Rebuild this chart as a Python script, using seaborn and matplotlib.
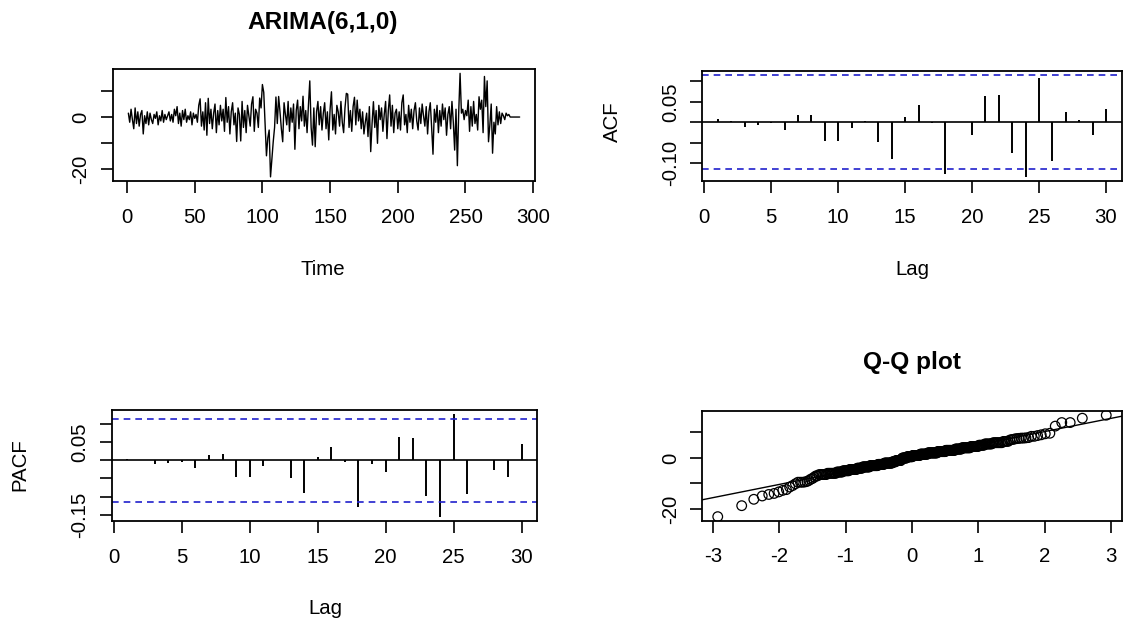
import numpy as np
import pandas as pd
import seaborn as sns
import matplotlib
matplotlib.use("Agg")
import matplotlib.pyplot as plt
from statistics import NormalDist

# ---------------- data ----------------
resid = [
    1.5, -2.0, 3.0, -1.0, -4.5, 3.5, -2.5, 2.0, -3.5, 1.0,
    2.5, -6.5, 0.5, -2.5, 2.0, -3.0, 1.5, -1.0, -2.5, 1.0,
    -0.5, 2.0, -3.0, 0.5, -1.5, 2.5, -2.0, 1.0, -1.0, 0.5,
    2.0, -1.5, 1.0, -2.0, 3.0, 0.5, 4.0, -2.5, 1.5, -3.5,
    2.5, -1.0, 3.0, -2.0, 0.5, -1.0, 2.0, -3.0, 1.5, -0.5,
    1.0, -2.0, 4.5, 7.0, -3.5, 2.0, -5.0, 5.5, -7.0, 7.2,
    -2.5, 3.0, -4.5, 1.5, 5.0, -6.0, 2.5, -3.0, 4.5, -1.5,
    3.0, -5.5, 7.5, -2.0, 4.0, -6.5, 2.0, 5.5, -3.0, 1.5,
    -9.4, 3.5, 1.0, -9.2, 6.0, -4.0, 2.5, -6.0, 4.5, 0.5,
    -3.5, 5.0, 7.8, -5.5, 3.0, 1.5, -4.0, 7.3, 3.5, 12.5,
    9.5, -3.0, -14.9, -8.0, -5.0, -23.0, -16.2, -9.5, -4.0, 7.7,
    -2.5, 7.9, 2.0, -4.5, -9.5, 5.5, 1.0, -3.0, 6.0, -5.5,
    3.5, -2.0, 5.0, -12.4, 2.5, 6.5, -4.5, 4.0, -1.5, 8.0,
    -3.5, 2.5, -6.0, 4.5, 13.9, -4.0, -10.8, 3.5, -11.4, 2.0,
    6.0, -3.0, 4.0, -5.0, 1.5, 5.5, -4.5, 2.0, -8.8, 3.0,
    9.7, -5.0, 1.0, -6.5, 4.5, 2.0, -3.5, 6.0, -2.0, -6.0,
    3.5, 9.1, 8.8, -4.0, 2.5, -5.5, 4.0, 7.6, -3.0, 6.5,
    -1.5, 3.0, -4.5, 2.0, -6.5, -2.0, 1.5, -7.5, 4.0, -13.3,
    -2.5, 5.9, -4.0, 2.5, -10.1, 4.5, -1.0, 3.5, -5.5, 1.0,
    6.0, -8.3, 2.5, 8.5, -3.5, 4.5, -6.0, 1.5, 3.0, -4.5,
    2.0, -5.0, 5.5, 8.5, -3.0, 1.0, -6.0, 4.5, -2.0, 3.0,
    -4.5, 2.5, 5.5, -1.5, -5.0, 3.5, -2.5, 5.0, 0.5, -3.5,
    4.0, -6.5, 2.0, 5.5, -4.0, -14.3, 3.0, -2.0, 4.5, -6.0,
    2.5, -3.5, 5.0, -1.0, 3.5, -7.0, 1.0, 4.0, -4.5, 6.0,
    -2.0, -12.7, 3.0, -18.7, 2.0, 16.8, 1.5, 3.0, -1.0, 2.5,
    0.5, 6.5, -5.5, 4.0, -3.5, 6.0, -2.5, 1.0, -5.0, 7.8,
    3.0, 6.5, -6.0, 15.6, 4.0, 13.9, -9.5, -3.0, 5.0, -13.9,
    -2.0, -6.5, 4.0, -3.0, 2.0, -2.5, 1.5, 0.5, -1.0, 1.5,
    0.5, 1.0, 0.0, 0.0, 0.0, 0.0, 0.0, 0.0, 0.0, 0.0,
]

lags = list(range(1, 31))
acf_vals = [0.007, 0.003, -0.011, -0.007, -0.001, -0.020, 0.017, 0.017, -0.045, -0.045,
            -0.015, 0.004, -0.048, -0.090, 0.013, 0.041, -0.001, -0.127, 0.001, -0.030,
            0.063, 0.066, -0.076, -0.134, 0.108, -0.094, 0.026, 0.005, -0.032, 0.032]
pacf_vals = [0.005, 0.001, -0.011, -0.008, -0.005, -0.022, 0.015, 0.017, -0.047, -0.047,
             -0.015, 0.001, -0.050, -0.091, 0.008, 0.037, -0.005, -0.130, -0.009, -0.032,
             0.065, 0.061, -0.099, -0.157, 0.127, -0.092, 0.001, -0.027, -0.047, 0.044]

title_main = "ARIMA(6,1,0)"
title_qq = "Q-Q plot"

# ---------------- styling ----------------
sns.set_style("ticks")
plt.rcParams["font.family"] = ["Liberation Sans", "DejaVu Sans"]
plt.rcParams["text.color"] = "black"
plt.rcParams["axes.labelcolor"] = "black"
plt.rcParams["xtick.color"] = "black"
plt.rcParams["ytick.color"] = "black"
FS = 14.7
TFS = 17.6

W, H = 1127, 625
fig = plt.figure(figsize=(W / 100, H / 100), dpi=100)


def box(l, t, r, b):
    return [l / W, 1 - b / H, (r - l) / W, (b - t) / H]


def rstyle(ax):
    for s in ax.spines.values():
        s.set_visible(True)
        s.set_color("black")
        s.set_linewidth(1.3)
    ax.tick_params(axis="both", direction="out", length=8.6, width=1.2,
                   colors="black", labelsize=FS, labelcolor="black")
    ax.tick_params(axis="x", pad=10.5)
    ax.tick_params(axis="y", pad=7.5)
    for lab in ax.get_yticklabels():
        lab.set_rotation(90)
        lab.set_va("center")
    ax.grid(False)
    ax.set_facecolor("white")


def rlim(lo, hi):
    d = (hi - lo) * 0.04
    return lo - d, hi + d


n = len(resid)
t = np.arange(1, n + 1)
df = pd.DataFrame({"Time": t, "resid": resid})
clim = 1.96 / np.sqrt(n)
CI_COLOR = "#2020CC"

# ---- Time series ----
ax1 = fig.add_axes(box(112.7, 69.2, 535.3, 181.0))
sns.lineplot(data=df, x="Time", y="resid", ax=ax1, color="black", linewidth=1.0)
ax1.set_xlim(*rlim(1, n))
ax1.set_ylim(*rlim(min(resid), max(resid)))
ax1.set_xticks(range(0, 301, 50))
ax1.set_yticks([-20, -10, 0, 10])
ax1.set_yticklabels(["-20", "", "0", ""])
ax1.set_ylabel("")
ax1.set_xlabel("Time", fontsize=FS, va="center", color="black")
ax1.xaxis.set_label_coords(323 / W, 1 - 270 / H, transform=fig.transFigure)
rstyle(ax1)
fig.text(323 / W, 1 - 22 / H, title_main, ha="center", va="center",
         fontsize=TFS, fontweight="bold", color="black")

# ---- ACF ----
ax2 = fig.add_axes(box(702.2, 71.0, 1121.5, 181.3))
ax2.vlines(lags, 0, acf_vals, color="black", linewidth=1.4)
ax2.axhline(0, color="black", linewidth=1.2)
ax2.axhline(clim, color=CI_COLOR, linestyle=(0, (4, 3)), linewidth=1.2)
ax2.axhline(-clim, color=CI_COLOR, linestyle=(0, (4, 3)), linewidth=1.2)
ax2.set_xlim(*rlim(1, 30))
ax2.set_ylim(*rlim(min(min(acf_vals), -clim), max(max(acf_vals), clim)))
ax2.set_xticks(range(0, 31, 5))
ax2.set_yticks([-0.10, -0.05, 0.0, 0.05, 0.10])
ax2.set_yticklabels(["-0.10", "", "", "0.05", ""])
ax2.set_xlabel("Lag", fontsize=FS, va="center", color="black")
ax2.xaxis.set_label_coords(912 / W, 1 - 270 / H, transform=fig.transFigure)
ax2.set_ylabel("ACF", fontsize=FS, va="center", color="black")
ax2.yaxis.set_label_coords(612 / W, 1 - 122 / H, transform=fig.transFigure)
rstyle(ax2)

# ---- PACF ----
ax3 = fig.add_axes(box(111.7, 410.2, 537.3, 521.3))
ax3.vlines(lags, 0, pacf_vals, color="black", linewidth=1.4)
ax3.axhline(0, color="black", linewidth=1.2)
ax3.axhline(clim, color=CI_COLOR, linestyle=(0, (4, 3)), linewidth=1.2)
ax3.axhline(-clim, color=CI_COLOR, linestyle=(0, (4, 3)), linewidth=1.2)
ax3.set_xlim(*rlim(1, 30))
ax3.set_ylim(*rlim(min(min(pacf_vals), -clim), max(max(pacf_vals), clim)))
ax3.set_xticks(range(0, 31, 5))
ax3.set_yticks([-0.15, -0.10, -0.05, 0.0, 0.05, 0.10])
ax3.set_yticklabels(["-0.15", "", "", "", "0.05", ""])
ax3.set_xlabel("Lag", fontsize=FS, va="center", color="black")
ax3.xaxis.set_label_coords(325 / W, 1 - 608 / H, transform=fig.transFigure)
ax3.set_ylabel("PACF", fontsize=FS, va="center", color="black")
ax3.yaxis.set_label_coords(20 / W, 1 - 465 / H, transform=fig.transFigure)
rstyle(ax3)

# ---- Q-Q ----
nd = NormalDist()
ys = np.sort(np.asarray(resid))
xs = np.array([nd.inv_cdf((i - 0.5) / n) for i in range(1, n + 1)])
qdf = pd.DataFrame({"theo": xs, "samp": ys})
ax4 = fig.add_axes(box(702.2, 411.1, 1121.8, 520.7))
sns.scatterplot(data=qdf, x="theo", y="samp", ax=ax4, marker="o", s=48,
                facecolors="none", edgecolor="black", linewidth=0.9)
yq = np.quantile(ys, [0.25, 0.75])
xq = np.array([nd.inv_cdf(0.25), nd.inv_cdf(0.75)])
slope = (yq[1] - yq[0]) / (xq[1] - xq[0])
icpt = yq[0] - slope * xq[0]
ax4.axline((0, icpt), slope=slope, color="black", linewidth=1.0)
ax4.set_xlim(*rlim(xs.min(), xs.max()))
ax4.set_ylim(*rlim(ys.min(), ys.max()))
ax4.set_xticks(range(-3, 4))
ax4.set_xticklabels(["-3", "-2", "-1", "0", "1", "2", "3"])
ax4.set_yticks([-20, -10, 0, 10])
ax4.set_yticklabels(["-20", "", "0", ""])
ax4.set_xlabel("")
ax4.set_ylabel("")
rstyle(ax4)
fig.text(912 / W, 1 - 362 / H, title_qq, ha="center", va="center",
         fontsize=TFS, fontweight="bold", color="black")

fig.savefig("out.png", dpi=100, facecolor="white")
